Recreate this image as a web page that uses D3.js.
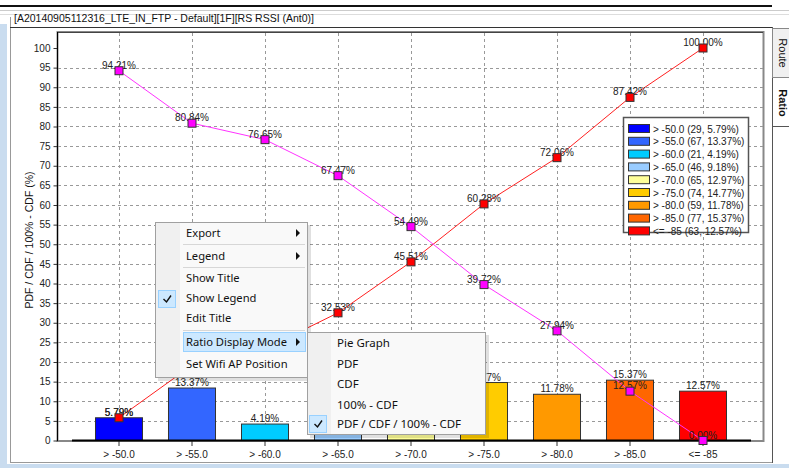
<!DOCTYPE html>
<html>
<head>
<meta charset="utf-8">
<script src="https://cdn.jsdelivr.net/npm/d3@7"></script>
<style>
body { margin: 0; background: #fff; }
svg text { font-family: "Liberation Sans", Arial, sans-serif; }
.menu text { font-family: "Noto Sans", "Open Sans", sans-serif; }
</style>
</head>
<body>
<div id="chart"></div>
<script>
// data
var categories = ["> -50.0", "> -55.0", "> -60.0", "> -65.0", "> -70.0", "> -75.0", "> -80.0", "> -85.0", "<= -85"];
var counts = [29, 67, 21, 46, 65, 74, 59, 77, 63];
var pdfValues = [5.79, 13.37, 4.19, 9.18, 12.97, 14.77, 11.78, 15.37, 12.57];
var cdfValues = [5.79, 19.16, 23.35, 32.53, 45.51, 60.28, 72.06, 87.42, 100.00];
var invCdfValues = [94.21, 80.84, 76.65, 67.47, 54.49, 39.72, 27.94, 12.57, 0.00];
var barColors = ["#0000ff", "#3366ff", "#00ccff", "#99ccff", "#ffff99", "#ffcc00", "#ff9900", "#ff6600", "#ff0000"];
var yTicks = [0, 5, 10, 15, 20, 25, 30, 35, 40, 45, 50, 55, 60, 65, 70, 75, 80, 85, 90, 95, 100];
var gridValues = [5, 10, 15, 20, 25, 30, 35, 40, 45, 50, 55, 60, 65, 70, 75, 80, 85, 90, 95];
var titleText = "[A20140905112316_LTE_IN_FTP - Default][1F][RS RSSI (Ant0)]";
var yTitle = "PDF / CDF / 100% - CDF (%)";
var menuItems = ["Export", "Legend", "Show Title", "Show Legend", "Edit Title", "Ratio Display Mode", "Set Wifi AP Position"];
var subMenuItems = ["Pie Graph", "PDF", "CDF", "100% - CDF", "PDF / CDF / 100% - CDF"];

var width = 789, height = 468;

var svg = d3.select("#chart").append("svg")
    .attr("width", width)
    .attr("height", height);

// window chrome
svg.append("rect").attr("x", 0).attr("y", 0).attr("width", width).attr("height", height).attr("fill", "#fff");
svg.append("rect").attr("x", 0).attr("y", 24).attr("width", 7).attr("height", height).attr("fill", "#c9dcef");
svg.append("rect").attr("x", 0).attr("y", 464).attr("width", width).attr("height", 4).attr("fill", "#c9dcef");
svg.append("line").attr("x1", 0).attr("x2", 772).attr("y1", 6).attr("y2", 6).attr("stroke", "#111").attr("stroke-width", 2);
svg.append("line").attr("x1", 0).attr("x2", width).attr("y1", 10.5).attr("y2", 10.5).attr("stroke", "#ccc");
svg.append("line").attr("x1", 0).attr("x2", width).attr("y1", 14.5).attr("y2", 14.5).attr("stroke", "#ddd");
svg.append("line").attr("x1", 10.5).attr("x2", 10.5).attr("y1", 17).attr("y2", 463).attr("stroke", "#999");
svg.append("line").attr("x1", 10).attr("x2", 772).attr("y1", 462.5).attr("y2", 462.5).attr("stroke", "#999");
svg.append("line").attr("x1", 10).attr("x2", 772).attr("y1", 27.5).attr("y2", 27.5).attr("stroke", "#333");
svg.append("line").attr("x1", 772.5).attr("x2", 772.5).attr("y1", 27).attr("y2", 463).attr("stroke", "#555");
svg.append("text").attr("x", 14).attr("y", 22).attr("font-size", 10.5).attr("fill", "#111").text(titleText);

// right side tabs
svg.append("rect").attr("x", 772.5).attr("y", 28.5).attr("width", 20).attr("height", 49).attr("fill", "#f0f0f0").attr("stroke", "#888");
svg.append("text").attr("transform", "translate(779,53) rotate(90)").attr("text-anchor", "middle")
    .attr("font-size", 11).attr("fill", "#111").text("Route");
svg.append("text").attr("transform", "translate(779,103) rotate(90)").attr("text-anchor", "middle")
    .attr("font-size", 11).attr("font-weight", "bold").attr("fill", "#111").text("Ratio");
svg.append("line").attr("x1", 772).attr("x2", width).attr("y1", 126.5).attr("y2", 126.5).attr("stroke", "#555");

// scales
var x = d3.scaleBand()
    .domain(categories)
    .range([82.5, 739.5])
    .paddingInner(0.356)
    .paddingOuter(0.178);
var y = d3.scaleLinear()
    .domain([0, 100])
    .range([440.5, 48]);
var cx = function (d, i) { return x(categories[i]) + x.bandwidth() / 2; };

// plot frame
svg.append("rect").attr("x", 57.5).attr("y", 32).attr("width", 706).attr("height", 409)
    .attr("fill", "#fff").attr("stroke", "#888").attr("stroke-width", 2);
svg.append("line").attr("x1", 57.5).attr("x2", 763).attr("y1", 32.5).attr("y2", 32.5).attr("stroke", "#444");

// grid
svg.append("g").selectAll("line").data(gridValues).enter().append("line")
    .attr("x1", 58).attr("x2", 763)
    .attr("y1", function (d) { return Math.round(y(d)) + 0.5; })
    .attr("y2", function (d) { return Math.round(y(d)) + 0.5; })
    .attr("stroke", "#999").attr("stroke-dasharray", "3,3");
svg.append("g").selectAll("line").data(categories).enter().append("line")
    .attr("x1", function (d) { return Math.round(x(d) + x.bandwidth() / 2) + 0.5; })
    .attr("x2", function (d) { return Math.round(x(d) + x.bandwidth() / 2) + 0.5; })
    .attr("y1", 33).attr("y2", 440)
    .attr("stroke", "#999").attr("stroke-dasharray", "3,3");

// axes
var yAxis = svg.append("g").attr("transform", "translate(57.5,0)")
    .call(d3.axisLeft(y).tickValues(yTicks).tickSize(4).tickPadding(3));
yAxis.select(".domain").remove();
yAxis.selectAll("text").attr("font-size", 10).attr("fill", "#222").attr("font-family", "Liberation Sans, Arial, sans-serif");
yAxis.selectAll("line").attr("stroke", "#333");
svg.append("line").attr("x1", 57.5).attr("x2", 57.5).attr("y1", 32).attr("y2", 441).attr("stroke", "#000");

var xAxis = svg.append("g").attr("transform", "translate(0,441)")
    .call(d3.axisBottom(x).tickSize(5).tickPadding(5));
xAxis.select(".domain").remove();
xAxis.selectAll("text").attr("font-size", 10).attr("fill", "#222").attr("font-family", "Liberation Sans, Arial, sans-serif");
xAxis.selectAll("line").attr("stroke", "#333");

svg.append("text")
    .attr("transform", "translate(33,240) rotate(-90)")
    .attr("text-anchor", "middle")
    .attr("font-size", 10.5).attr("fill", "#111")
    .text(yTitle);

// bars (PDF)
svg.append("g").selectAll("rect").data(pdfValues).enter().append("rect")
    .attr("x", function (d, i) { return x(categories[i]); })
    .attr("y", function (d) { return y(d); })
    .attr("width", x.bandwidth())
    .attr("height", function (d) { return y(0) - y(d); })
    .attr("fill", function (d, i) { return barColors[i]; })
    .attr("stroke", "#333").attr("stroke-width", 1);

svg.append("line").attr("x1", 72).attr("x2", 751).attr("y1", 440.5).attr("y2", 440.5)
    .attr("stroke", "#000").attr("stroke-width", 2);

svg.append("g").selectAll("text").data(pdfValues).enter().append("text")
    .attr("x", cx)
    .attr("y", function (d) { return y(d) - 2; })
    .attr("text-anchor", "middle")
    .attr("font-size", 10).attr("fill", "#222")
    .text(function (d) { return d.toFixed(2) + "%"; });

// CDF and 100% - CDF lines
var line = d3.line().x(cx).y(function (d) { return y(d); });
svg.append("path").datum(cdfValues).attr("d", line).attr("fill", "none").attr("stroke", "#ff2020").attr("stroke-width", 1);
svg.append("path").datum(invCdfValues).attr("d", line).attr("fill", "none").attr("stroke", "#ff33ff").attr("stroke-width", 1);

function pointLabels(values) {
    svg.append("g").selectAll("text").data(values).enter().append("text")
        .attr("x", cx)
        .attr("y", function (d) { return y(d) - 2; })
        .attr("text-anchor", "middle")
        .attr("font-size", 10).attr("fill", "#222")
        .text(function (d) { return d.toFixed(2) + "%"; });
}
function markers(values, fill) {
    svg.append("g").selectAll("rect").data(values).enter().append("rect")
        .attr("x", function (d, i) { return cx(d, i) - 4; })
        .attr("y", function (d) { return y(d) - 4; })
        .attr("width", 8).attr("height", 8)
        .attr("fill", fill).attr("stroke", "#333").attr("stroke-width", 1);
}
pointLabels(cdfValues);
pointLabels(invCdfValues);
markers(cdfValues, "#ff0000");
markers(invCdfValues, "#ff00ff");

// legend
var legend = svg.append("g").attr("transform", "translate(623,117)");
legend.append("rect").attr("x", 0.5).attr("y", 0.5).attr("width", 125).attr("height", 115)
    .attr("fill", "#fff").attr("stroke", "#555").attr("stroke-width", 1.5);
var rows = legend.selectAll("g.row").data(categories).enter().append("g")
    .attr("class", "row")
    .attr("transform", function (d, i) { return "translate(0," + (7 + i * 12.8) + ")"; });
rows.append("rect").attr("x", 5.5).attr("y", 0.5).attr("width", 21).attr("height", 8)
    .attr("fill", function (d, i) { return barColors[i]; })
    .attr("stroke", "#333");
rows.append("text").attr("x", 30).attr("y", 8.5)
    .attr("font-size", 10).attr("fill", "#222")
    .text(function (d, i) { return d + " (" + counts[i] + ", " + pdfValues[i].toFixed(2) + "%)"; });

// context menu
var menu = svg.append("g").attr("class", "menu");
var mainY = [233, 256, 278, 298, 318, 342, 364];
menu.append("rect").attr("x", 158).attr("y", 225).attr("width", 153).attr("height", 156).attr("fill", "rgba(0,0,0,0.12)");
menu.append("rect").attr("x", 155.5).attr("y", 222.5).attr("width", 152).attr("height", 155)
    .attr("fill", "#f9f9f9").attr("stroke", "#a0a0a0");
menu.append("rect").attr("x", 156).attr("y", 223).attr("width", 24).attr("height", 154).attr("fill", "#f0f0f0");
[244.5, 267.5, 330.5].forEach(function (sy) {
    menu.append("line").attr("x1", 183).attr("x2", 305).attr("y1", sy).attr("y2", sy).attr("stroke", "#d7d7d7");
});
menu.append("rect").attr("x", 183.5).attr("y", 332.5).attr("width", 122).attr("height", 19)
    .attr("fill", "#cce8ff").attr("stroke", "#99d1ff");
menu.append("rect").attr("x", 158.5).attr("y", 290.5).attr("width", 17).attr("height", 17)
    .attr("fill", "#cce8ff").attr("stroke", "#99d1ff");
menu.append("path").attr("d", "M163.5,299 L166.5,302 L171,295.5").attr("fill", "none").attr("stroke", "#111").attr("stroke-width", 1.4);
menu.selectAll("text.item").data(menuItems).enter().append("text")
    .attr("class", "item")
    .attr("x", 186).attr("y", function (d, i) { return mainY[i] + 4; })
    .attr("font-size", 11.2).attr("fill", "#111")
    .text(function (d) { return d; });
[0, 1, 5].forEach(function (i) {
    var ay = mainY[i];
    menu.append("path").attr("d", "M296," + (ay - 4) + " L300," + ay + " L296," + (ay + 4) + "Z").attr("fill", "#111");
});

var subY = [343, 364, 384, 405, 424];
menu.append("rect").attr("x", 310).attr("y", 335).attr("width", 179).attr("height", 103).attr("fill", "rgba(0,0,0,0.12)");
menu.append("rect").attr("x", 307.5).attr("y", 332.5).attr("width", 178).attr("height", 102)
    .attr("fill", "#f9f9f9").attr("stroke", "#a0a0a0");
menu.append("rect").attr("x", 308).attr("y", 333).attr("width", 23).attr("height", 101).attr("fill", "#f0f0f0");
menu.append("rect").attr("x", 309.5).attr("y", 415.5).attr("width", 17).attr("height", 17)
    .attr("fill", "#cce8ff").attr("stroke", "#99d1ff");
menu.append("path").attr("d", "M314.5,424 L317.5,427 L322,420.5").attr("fill", "none").attr("stroke", "#111").attr("stroke-width", 1.4);
menu.selectAll("text.sub").data(subMenuItems).enter().append("text")
    .attr("class", "sub")
    .attr("x", 337).attr("y", function (d, i) { return subY[i] + 4; })
    .attr("font-size", 11.5).attr("fill", "#111")
    .text(function (d) { return d; });
</script>
</body>
</html>
